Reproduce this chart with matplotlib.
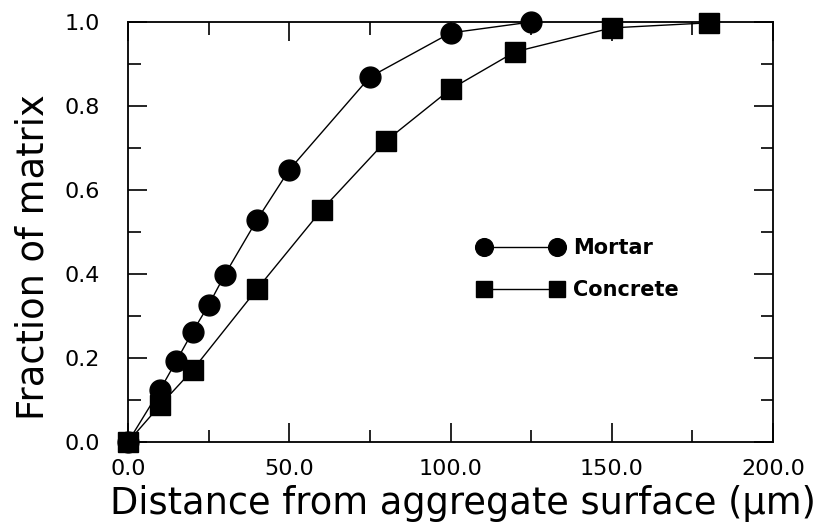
import matplotlib
matplotlib.use("Agg")
import matplotlib.pyplot as plt
from matplotlib.ticker import MultipleLocator, FormatStrFormatter

# Fraction of matrix within a given distance from the aggregate surface
mortar_x = [0, 10, 15, 20, 25, 30, 40, 50, 75, 100, 125]
mortar_y = [0.0, 0.125, 0.193, 0.262, 0.326, 0.398, 0.529, 0.648, 0.869, 0.974, 1.0]

concrete_x = [0, 10, 20, 40, 60, 80, 100, 120, 150, 180]
concrete_y = [0.0, 0.088, 0.171, 0.364, 0.552, 0.717, 0.840, 0.929, 0.986, 0.998]

x_ticks = [0, 50, 100, 150, 200]
y_ticks = [0.0, 0.2, 0.4, 0.6, 0.8, 1.0]

plt.rcParams['font.family'] = ['DejaVu Sans']

W, H = 827, 524
fig = plt.figure(figsize=(W / 100, H / 100), dpi=100)
ax = fig.add_axes([128 / W, 1 - 442 / H, (773 - 128) / W, (442 - 22) / H])

ax.plot(mortar_x, mortar_y, color='black', lw=1.0, marker='o', markersize=15,
        label='Mortar', clip_on=False, zorder=3)
ax.plot(concrete_x, concrete_y, color='black', lw=1.0, marker='s', markersize=14,
        label='Concrete', clip_on=False, zorder=3)

ax.set_xlim(0, 200)
ax.set_ylim(0, 1.0)
ax.set_xticks(x_ticks)
ax.set_yticks(y_ticks)
ax.xaxis.set_minor_locator(MultipleLocator(25))
ax.yaxis.set_minor_locator(MultipleLocator(0.1))
ax.xaxis.set_major_formatter(FormatStrFormatter('%.1f'))
ax.yaxis.set_major_formatter(FormatStrFormatter('%.1f'))

ax.tick_params(which='both', direction='in', top=True, right=True, width=1.2,
               labelsize=16, colors='black')
ax.tick_params(which='major', length=14)
ax.tick_params(axis='x', which='major', pad=12)
ax.tick_params(axis='y', which='major', pad=20)
ax.tick_params(which='minor', length=9)
for s in ax.spines.values():
    s.set_linewidth(1.3)

# Axis titles
fig.text(463 / W, 1 - 514 / H, 'Distance from aggregate surface (µm)',
         fontsize=26.5, ha='center', va='baseline')
fig.text(33 / W, 1 - 257 / H, 'Fraction of matrix', fontsize=26.5,
         rotation=90, ha='center', va='center')

ax.legend(loc='upper left', bbox_to_anchor=(478 / W, 1 - 238 / H),
          bbox_transform=fig.transFigure, frameon=False, borderpad=0,
          borderaxespad=0, prop={'size': 15, 'weight': 'bold'},
          handlelength=4.1, handletextpad=0.45, labelspacing=1.05,
          numpoints=2, markerscale=0.85)

fig.savefig('out.png', dpi=100)
